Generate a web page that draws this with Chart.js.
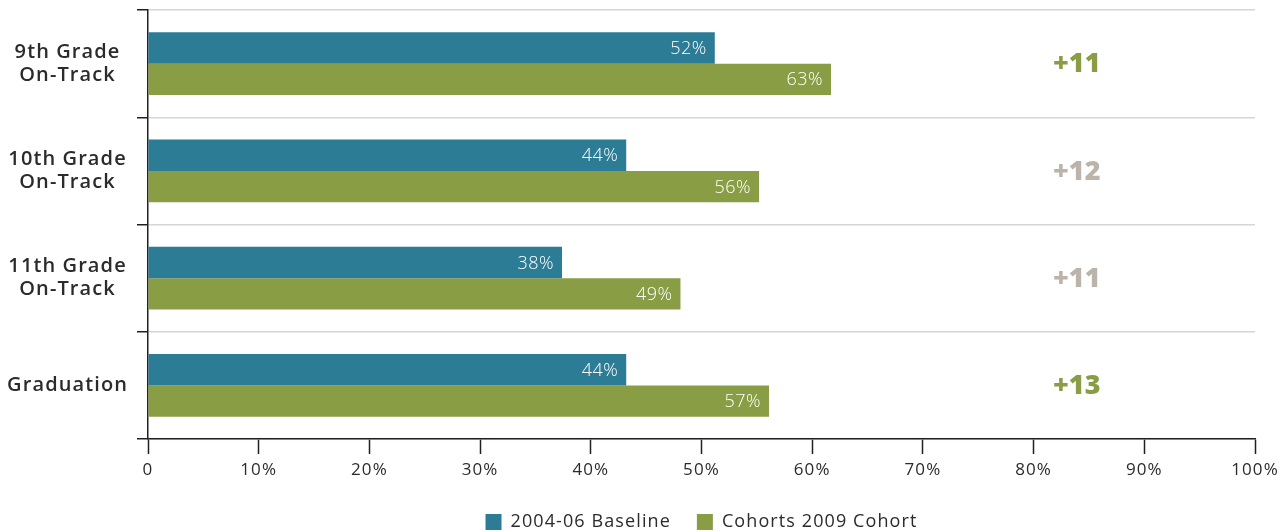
<!DOCTYPE html>
<html>
<head>
<meta charset="utf-8">
<script src="https://cdn.jsdelivr.net/npm/chart.js@4"></script>
<style>
  html, body { margin: 0; padding: 0; background: #fff; }
  #wrap { width: 1287px; height: 531px; }
</style>
</head>
<body>
<div id="wrap"><canvas id="chart" width="1287" height="531"></canvas></div>
<script>
// ==== Data ====
const categories = [["9th Grade", "On-Track"], ["10th Grade", "On-Track"], ["11th Grade", "On-Track"], "Graduation"];
const seriesNames = ["2004-06 Baseline", "Cohorts 2009 Cohort"];
const baseline = [51.2, 43.2, 37.4, 43.2];
const cohort = [61.7, 55.2, 48.1, 56.1];
const baselineLabels = ["52%", "44%", "38%", "44%"];
const cohortLabels = ["63%", "56%", "49%", "57%"];
const gains = ["+11", "+12", "+11", "+13"];
const xTicks = [0, 10, 20, 30, 40, 50, 60, 70, 80, 90, 100];

// ==== Styles ====
const BLUE = '#2d7c95';
const GREEN = '#899d44';
const GAIN_COLORS = [GREEN, '#bcb4ab', '#bcb4ab', GREEN];
const FONT = '"Open Sans", Lato, sans-serif';
const TEXT = '#2b2b2b';
const SPACING = '1.1px';

// wider letters, closer to the original typeface
const spacingPlugin = {
    id: 'spacing',
    beforeUpdate(chart) { chart.ctx.letterSpacing = SPACING; },
    beforeDraw(chart) { chart.ctx.letterSpacing = SPACING; }
};

// bar value labels + gain numbers
const labelPlugin = {
    id: 'labels',
    afterDatasetsDraw(chart) {
        const ctx = chart.ctx;
        const valueText = [baselineLabels, cohortLabels];
        ctx.save();
        ctx.letterSpacing = '0.5px';
        ctx.font = '300 18px ' + FONT;
        ctx.fillStyle = '#ffffff';
        ctx.textAlign = 'right';
        ctx.textBaseline = 'middle';
        chart.data.datasets.forEach((ds, d) => {
            chart.getDatasetMeta(d).data.forEach((bar, i) => {
                ctx.fillText(valueText[d][i], bar.x - 8, bar.y + 1);
            });
        });

        const xs = chart.scales.x, ys = chart.scales.y;
        ctx.letterSpacing = '0px';
        ctx.font = '800 27px ' + FONT;
        ctx.textAlign = 'center';
        gains.forEach((g, i) => {
            ctx.fillStyle = GAIN_COLORS[i];
            ctx.fillText(g, xs.getPixelForValue(83.9), ys.getPixelForValue(i) + 1);
        });
        ctx.restore();
    }
};

new Chart(document.getElementById('chart'), {
    type: 'bar',
    data: {
        labels: categories,
        datasets: [
            { label: seriesNames[0], data: baseline, backgroundColor: BLUE },
            { label: seriesNames[1], data: cohort, backgroundColor: GREEN }
        ]
    },
    options: {
        indexAxis: 'y',
        responsive: false,
        animation: false,
        categoryPercentage: 0.585,
        barPercentage: 1,
        layout: { padding: { top: 10, right: 32, left: 0, bottom: -10 } },
        plugins: {
            tooltip: { enabled: false },
            legend: {
                position: 'bottom',
                fullSize: false,
                labels: {
                    boxWidth: 16,
                    boxHeight: 16,
                    padding: 26,
                    color: TEXT,
                    font: { family: FONT, size: 18 }
                }
            }
        },
        scales: {
            x: {
                min: 0,
                max: 100,
                afterBuildTicks: scale => { scale.ticks = xTicks.map(v => ({ value: v })); },
                afterFit: scale => { scale.height = 48; },
                border: { color: '#231f20', width: 1.5 },
                grid: { drawOnChartArea: false, tickLength: 15, tickColor: '#231f20', tickWidth: 1.5 },
                ticks: {
                    color: TEXT,
                    padding: 6,
                    font: { family: FONT, size: 17 },
                    callback: v => v === 0 ? '0' : v + '%'
                }
            },
            y: {
                afterFit: scale => {
                    scale.width = 148;
                    scale.paddingTop = 0;
                    scale.paddingBottom = 0;
                },
                border: { color: '#231f20', width: 1.5 },
                grid: { color: '#d6d6d6', lineWidth: 1.5, tickLength: 11, tickColor: '#231f20', tickWidth: 1.5 },
                ticks: {
                    color: TEXT,
                    crossAlign: 'center',
                    padding: 9,
                    font: { family: FONT, size: 20, weight: '600', lineHeight: 1.15 }
                }
            }
        }
    },
    plugins: [spacingPlugin, labelPlugin]
});
</script>
</body>
</html>
